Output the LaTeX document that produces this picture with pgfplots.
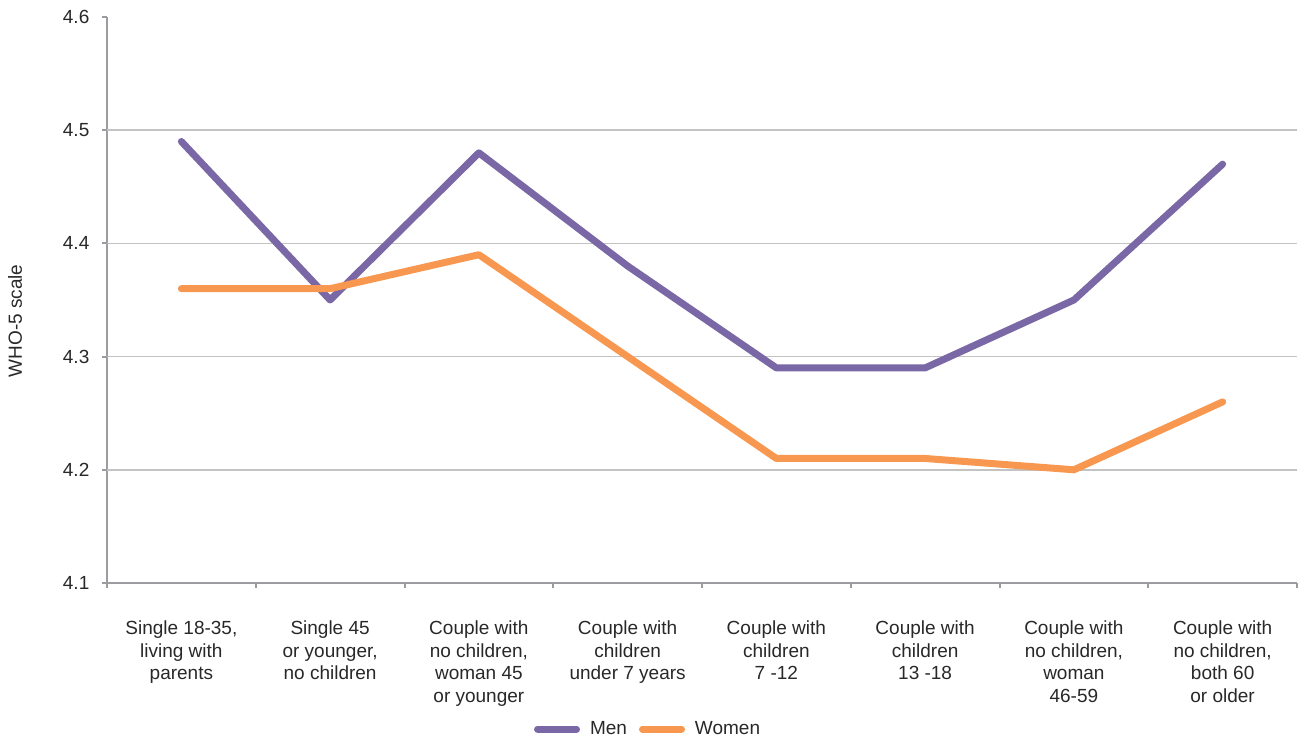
\documentclass[border=0pt]{standalone}
\usepackage{fontspec}
\setmainfont{Liberation Sans}
\usepackage{pgfplots}
\pgfplotsset{compat=1.18}
\definecolor{menc}{RGB}{122,104,166}
\definecolor{womc}{RGB}{247,151,80}
\definecolor{axc}{RGB}{155,155,160}
\definecolor{gridc}{RGB}{195,195,195}
\definecolor{txt}{RGB}{40,40,40}
\begin{document}
\begin{tikzpicture}
\begin{axis}[
  scale only axis, width=595pt, height=283pt,
  xmin=-0.5, xmax=7.5, ymin=4.1, ymax=4.6,
  axis lines=left,
  axis line style={-, draw=axc, line width=1pt},
  tick align=outside,
  major tick length=2.5pt, minor tick length=2.5pt,
  tick style={draw=axc, line width=1pt},
  xtick={0,1,2,3,4,5,6,7},
  major x tick style={draw=none},
  minor xtick={-0.5,0.5,1.5,2.5,3.5,4.5,5.5,6.5,7.5},
  xticklabels={{Single 18-35,\\living with\\parents},{Single 45\\or younger,\\no children},{Couple with\\no children,\\woman 45\\or younger},{Couple with\\children\\under 7 years},{Couple with\\children\\7 -12},{Couple with\\children\\13 -18},{Couple with\\no children,\\woman\\46-59},{Couple with\\no children,\\both 60\\or older}},
  xticklabel style={align=center, yshift=-12.8pt},
  ytick={4.1,4.2,4.3,4.4,4.5,4.6},
  extra y ticks={4.2,4.3,4.4,4.5},
  extra y tick labels={},
  extra y tick style={grid=major, major tick length=0pt},
  major grid style={draw=gridc, line width=0.75pt},
  /pgf/number format/assume math mode=true,
  yticklabel style={/pgf/number format/fixed, /pgf/number format/precision=1, /pgf/number format/fixed zerofill, xshift=-2.8pt},
  tick label style={font=\fontsize{9.5}{11.35}\selectfont, text=txt},
  every axis y label/.style={at={(rel axis cs:0,0.463)}, anchor=center, xshift=-46pt, rotate=90},
  ylabel={WHO-5 scale},
  label style={font=\fontsize{9.5}{11.35}\selectfont, text=txt},
  legend style={at={(rel axis cs:0.4555,-0.258)}, anchor=center, draw=none, fill=none,
    legend columns=-1, font=\fontsize{9.5}{11.35}\selectfont, text=txt,
    /tikz/every odd column/.append style={column sep=3pt},
    /tikz/every even column/.append style={column sep=4pt}},
  legend image code/.code={\draw[#1, line width=3.5pt, line cap=round] (1.75pt,0pt) -- (21.25pt,0pt);},
]
\addplot[menc, line width=3.5pt, line cap=round, line join=round] coordinates {(0,4.49)(1,4.35)(2,4.48)(3,4.38)(4,4.29)(5,4.29)(6,4.35)(7,4.47)};
\addlegendentry{Men}
\addplot[womc, line width=3.5pt, line cap=round, line join=round] coordinates {(0,4.36)(1,4.36)(2,4.39)(3,4.30)(4,4.21)(5,4.21)(6,4.20)(7,4.26)};
\addlegendentry{Women}
\end{axis}
\pgfresetboundingbox
\path (current axis.south west) ++(-53.5pt,-78.5pt) (current axis.north east) ++(2pt,8.5pt);
\end{tikzpicture}
\end{document}
